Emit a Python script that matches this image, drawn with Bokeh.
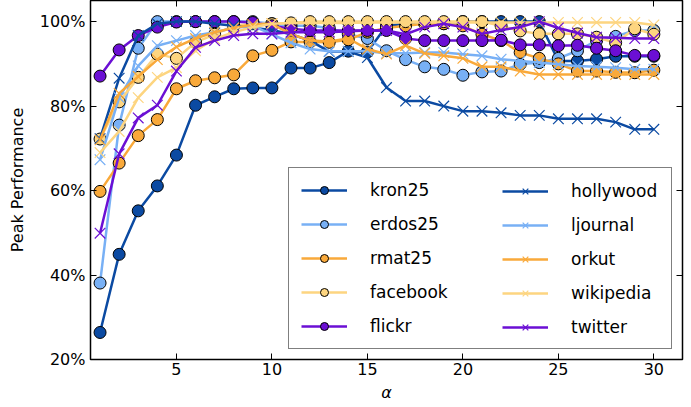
from bokeh.plotting import figure
from bokeh.models import (Range1d, FixedTicker, PrintfTickFormatter, LinearAxis,
                          Legend, LegendItem, CustomJSTickFormatter)
from bokeh.embed import file_html
from bokeh.resources import INLINE

alpha = list(range(1, 31))

kron25 = [26.4, 44.9, 55.2, 61.1, 68.4, 80.2, 82.2, 84.1, 84.3, 84.3, 89.0, 89.0, 90.3, 93.0, 92.8,
          99.0, 99.5, 99.5, 99.5, 100, 100, 100, 100, 100, 90.7, 90.7, 91.1, 91.8, 91.8, 91.8]
erdos25 = [38.1, 75.5, 93.7, 100, 100, 100, 100, 100, 100, 99.5, 99.0, 99.0, 98.5, 97.0, 96.0,
           93.1, 91.0, 89.3, 88.7, 87.3, 88.1, 88.3, 89.9, 90.3, 91.3, 93.1, 95.5, 96.5, 97.9, 97.9]
rmat25 = [59.8, 66.5, 73.0, 76.8, 84.1, 86.0, 86.7, 87.4, 91.9, 93.2, 95.2, 95.2, 95.1, 95.7, 97.5,
          98.5, 99.0, 99.5, 99.5, 99.0, 97.0, 95.5, 92.7, 91.3, 90.0, 88.3, 88.3, 88.0, 87.9, 88.5]
facebook = [72.2, 81.0, 86.8, 92.3, 91.3, 95.1, 97.0, 99.0, 99.5, 99.5, 99.7, 100, 100, 100, 100,
            100, 100, 100, 100, 100, 100, 99.0, 97.8, 97.1, 97.1, 97.1, 96.3, 95.0, 98.3, 97.0]
flickr = [87.1, 93.3, 96.7, 98.7, 99.9, 100, 100, 100, 99.8, 99.0, 98.3, 97.9, 97.9, 97.9, 97.9,
          97.9, 96.0, 95.5, 95.5, 95.5, 95.5, 95.6, 94.5, 94.5, 94.3, 94.4, 93.7, 93.1, 92.0, 92.0]
hollywood = [72.3, 86.6, 96.7, 99.5, 100, 100, 99.5, 99.0, 98.5, 98.0, 97.0, 95.5, 92.9, 92.9, 91.5,
             84.4, 81.2, 81.2, 80.0, 78.8, 78.8, 78.4, 77.8, 77.8, 77.0, 77.0, 77.0, 76.2, 74.5, 74.5]
ljournal = [67.3, 82.0, 89.5, 94.3, 95.5, 96.7, 97.5, 98.5, 99.0, 97.0, 95.0, 93.5, 93.0, 93.0, 93.0,
            92.5, 92.5, 92.7, 92.7, 92.3, 91.9, 91.1, 90.7, 90.3, 89.9, 89.5, 89.3, 89.1, 88.7, 88.7]
orkut = [72.0, 83.0, 87.0, 91.0, 94.0, 96.0, 97.5, 98.5, 99.3, 99.5, 97.0, 95.5, 95.3, 96.0, 93.5,
         92.3, 94.3, 92.5, 91.9, 91.3, 89.3, 89.3, 88.3, 87.5, 87.5, 87.5, 87.5, 87.5, 87.5, 87.5]
wikipedia = [69.0, 74.0, 82.0, 86.8, 89.1, 93.1, 95.9, 97.5, 98.7, 99.5, 99.7, 99.7, 99.7, 99.7, 99.8,
             99.8, 99.8, 99.8, 99.8, 99.8, 99.8, 99.8, 99.8, 99.8, 99.8, 99.8, 99.8, 99.8, 99.8, 99.2]
twitter = [49.9, 68.7, 77.2, 80.2, 88.3, 93.9, 95.5, 96.7, 97.1, 97.1, 97.5, 97.5, 97.5, 97.7, 97.9,
           97.9, 97.0, 98.7, 99.5, 98.7, 97.1, 98.0, 98.7, 100, 98.5, 97.3, 96.3, 96.2, 96.0, 96.0]

circle_names = ["kron25", "erdos25", "rmat25", "facebook", "flickr"]
circle_series = [kron25, erdos25, rmat25, facebook, flickr]
cross_names = ["hollywood", "ljournal", "orkut", "wikipedia", "twitter"]
cross_series = [hollywood, ljournal, orkut, wikipedia, twitter]
colors = ["#0b4aa2", "#78b0f5", "#f9a93a", "#fdd580", "#6b0fd4"]

x_ticks = [5, 10, 15, 20, 25, 30]
y_ticks = [20, 40, 60, 80, 100]

FONT = "DejaVu Sans"

p = figure(width=690, height=405, output_backend="svg", toolbar_location=None,
           x_range=Range1d(0.5, 31.5), y_range=Range1d(20, 105),
           min_border_left=90, min_border_right=8, min_border_top=0, min_border_bottom=46)
p.xgrid.visible = False
p.ygrid.visible = False
p.outline_line_color = "black"
p.outline_line_width = 1.5
p.background_fill_color = "white"
p.border_fill_color = "white"

items_c = []
for name, ys, c in zip(circle_names, circle_series, colors):
    l = p.line(alpha, ys, line_color=c, line_width=2.5)
    s = p.scatter(alpha, ys, marker="circle", size=12, fill_color=c, line_color="black", line_width=1)
    items_c.append(LegendItem(label=name, renderers=[l, s]))
items_x = []
for name, ys, c in zip(cross_names, cross_series, colors):
    l = p.line(alpha, ys, line_color=c, line_width=2.5)
    s = p.scatter(alpha, ys, marker="x", size=15, line_color=c, line_width=1.2)
    items_x.append(LegendItem(label=name, renderers=[l, s]))

for ax in [p.xaxis[0], p.yaxis[0]]:
    ax.major_tick_in = 6
    ax.major_tick_out = 0
    ax.minor_tick_line_color = None
    ax.axis_line_color = None
    ax.major_label_text_font = FONT
    ax.major_label_text_font_size = "16px"
    ax.major_label_text_color = "black"
    ax.major_tick_line_color = "black"
    ax.major_tick_line_width = 1
    ax.axis_label_text_color = "black"
    ax.axis_label_text_font = FONT

p.xaxis[0].ticker = FixedTicker(ticks=x_ticks)
p.yaxis[0].ticker = FixedTicker(ticks=y_ticks)
p.yaxis[0].formatter = PrintfTickFormatter(format="%d%%")
p.xaxis[0].major_label_standoff = 3
p.yaxis[0].major_label_standoff = 5
p.xaxis[0].axis_label = "α"
p.xaxis[0].axis_label_text_font_style = "italic"
p.xaxis[0].axis_label_text_font_size = "16px"
p.xaxis[0].axis_label_standoff = 5
p.yaxis[0].axis_label = "Peak Performance"
p.yaxis[0].axis_label_text_font_style = "normal"
p.yaxis[0].axis_label_text_font_size = "16px"
p.yaxis[0].axis_label_standoff = 10

blank = CustomJSTickFormatter(code="return ''")
top = LinearAxis(ticker=FixedTicker(ticks=x_ticks), formatter=blank)
right = LinearAxis(ticker=FixedTicker(ticks=y_ticks), formatter=blank)
for ax in [top, right]:
    ax.major_tick_in = 6
    ax.major_tick_out = 0
    ax.minor_tick_line_color = None
    ax.axis_line_color = None
    ax.major_label_standoff = 0
    ax.axis_label_standoff = 0
    ax.major_label_text_font_size = "0px"
    ax.major_tick_line_color = "black"
p.add_layout(top, "above")
p.add_layout(right, "right")

common = dict(label_text_font=FONT, label_text_font_size="17px", label_text_color="black",
              glyph_width=46, glyph_height=20, label_height=20, label_standoff=23,
              spacing=14, margin=0)
legend_a = Legend(items=items_c, location=(198, 10), orientation="vertical",
                  border_line_color="black", border_line_width=1.5,
                  background_fill_color="white", background_fill_alpha=1,
                  label_width=289, padding=12, **common)
legend_b = Legend(items=items_x, location=(412, 22), orientation="vertical",
                  border_line_color=None, background_fill_alpha=0,
                  label_width=20, padding=0, **common)
p.add_layout(legend_a, "center")
p.add_layout(legend_b, "center")

open("out.html", "w").write(file_html(p, INLINE))
